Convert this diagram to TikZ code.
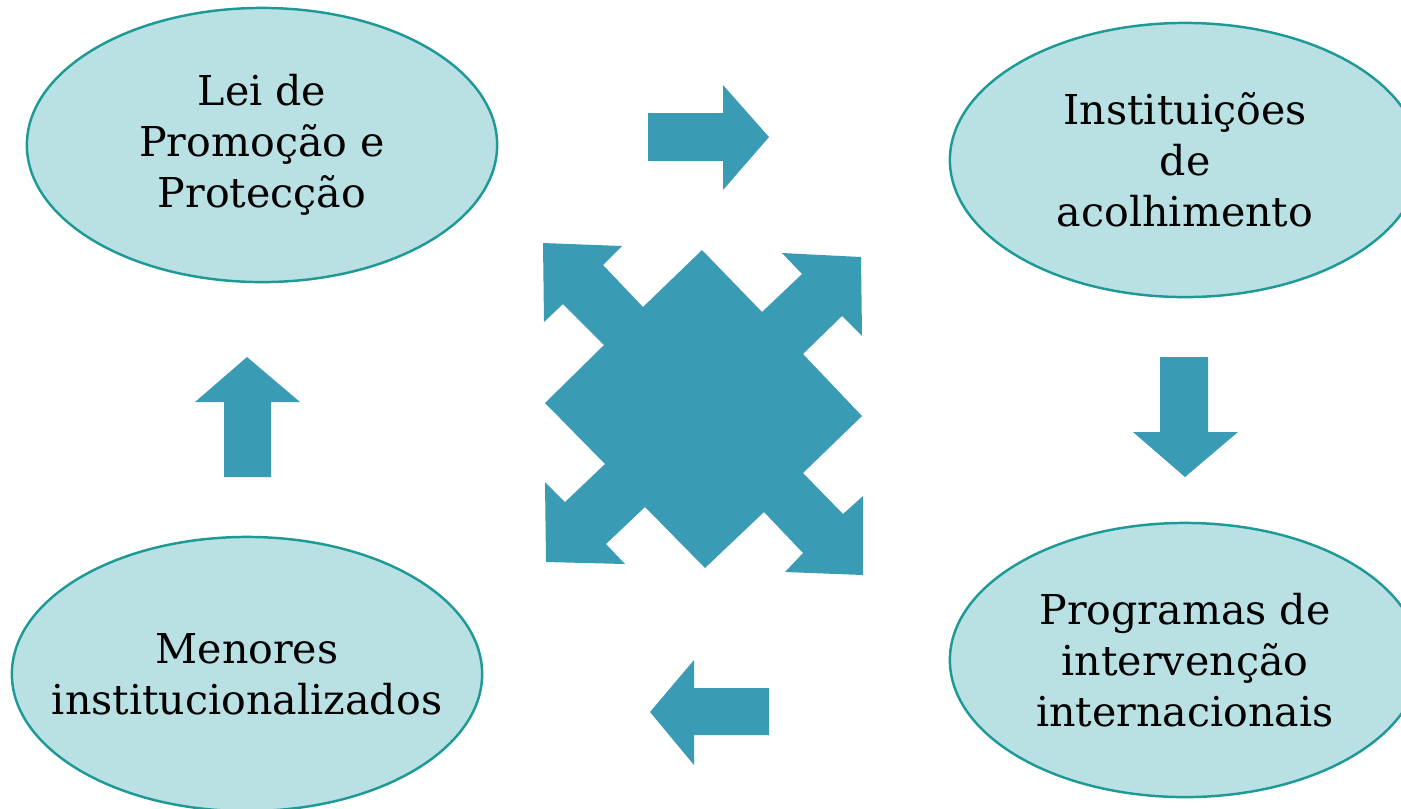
\documentclass[tikz,border=0pt]{standalone}
\usepackage{fontspec}
\setmainfont{DejaVu Serif}
\usetikzlibrary{shapes.geometric}

\definecolor{bubblefill}{HTML}{B9E0E3}
\definecolor{bubbleline}{HTML}{1E9A96}
\definecolor{arrowblue}{HTML}{3A9BB5}

\tikzset{
    bubble/.style={ellipse, draw=bubbleline, line width=0.7pt, fill=bubblefill,
        minimum width=4.7cm, minimum height=2.74cm, inner xsep=-0.6cm, inner ysep=0pt,
        align=center, font=\fontsize{11.7}{14.5}\selectfont},
    blockarrow/.style={fill=arrowblue}
}

\begin{document}
\begin{tikzpicture}[x=0.01cm,y=-0.01cm]
    \useasboundingbox (0,0) rectangle (1401,808);
    \clip (0,0) rectangle (1401,808);

    % Ellipses
    \node[bubble] (lei) at (262,145) {Lei de\\Promoção e\\Protecção};
    \node[bubble] (inst) at (1185,160) {Instituições\\de\\acolhimento};
    \node[bubble] (prog) at (1185,660) {Programas de\\intervenção\\internacionais};
    \node[bubble] (men) at (247,674) {Menores\\institucionalizados};

    % Block arrows round the cycle
    \fill[blockarrow] (648,113) -- (723,113) -- (723,85) -- (769,137)
        -- (723,190) -- (723,161) -- (648,161) -- cycle;
    \fill[blockarrow] (1160,357) -- (1208,357) -- (1208,432) -- (1238,432)
        -- (1185,477) -- (1133,432) -- (1160,432) -- cycle;
    \fill[blockarrow] (769,688) -- (694,688) -- (694,660) -- (650,712)
        -- (694,765) -- (694,735) -- (769,735) -- cycle;
    \fill[blockarrow] (224,477) -- (271,477) -- (271,402) -- (300,402)
        -- (247,357) -- (195,402) -- (224,402) -- cycle;

    % Centre: four way arrow
    \fill[blockarrow] (543,243) -- (622,246) -- (603,265) -- (643,307)
        -- (702,250) -- (762,312) -- (802,274) -- (782,253)
        -- (861,257) -- (862,336) -- (842,316) -- (803,354)
        -- (862,416) -- (803,473) -- (843,514) -- (863,496)
        -- (863,575) -- (785,572) -- (803,553) -- (764,512)
        -- (705,568) -- (645,507) -- (606,544) -- (625,564)
        -- (546,562) -- (545,482) -- (565,502) -- (605,464)
        -- (545,403) -- (604,345) -- (563,304) -- (544,322) -- cycle;

\end{tikzpicture}
\end{document}
